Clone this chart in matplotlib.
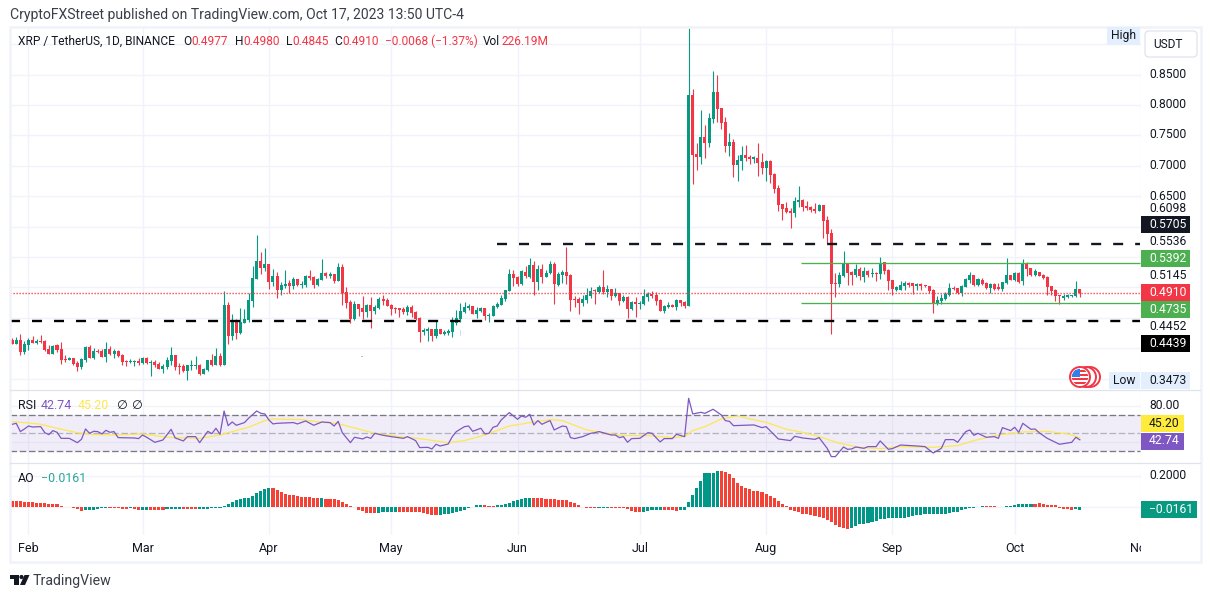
import matplotlib
matplotlib.use("Agg")
import matplotlib.pyplot as plt
import numpy as np
from matplotlib.patches import Circle, FancyBboxPatch, Polygon, Rectangle

plt.rcParams["font.family"] = ["Roboto", "DejaVu Sans"]

# candles, one per day, first one is 4 days before Feb 1
first_day = -4
opens = [
    .4140, .4074, .4140, .3931, .4057, .4140, .4090, .4123, .4123, .3992,
    .3910, .4057, .3992, .3827, .3811, .3844, .3762, .3696, .3811, .4025,
    .3844, .3959, .3959, .3860, .3992, .3910, .3959, .3893, .3794, .3778,
    .3778, .3794, .3762, .3844, .3762, .3778, .3745, .3663, .3696, .3794,
    .3893, .3712, .3712, .3630, .3712, .3712, .3729, .3581, .3646, .3811,
    .3729, .3877, .3729, .4715, .4205, .4452, .4255, .4419, .4468, .4781,
    .5142, .5438, .5323, .5389, .5093, .5192, .4962, .5027, .5077, .5027,
    .5142, .5044, .5044, .5192, .5175, .5044, .5126, .5241, .5192, .5225,
    .5110, .5340, .4929, .4764, .4485, .4731, .4666, .4600, .4715, .4616,
    .4666, .4814, .4797, .4715, .4666, .4666, .4649, .4600, .4682, .4600,
    .4501, .4271, .4288, .4320, .4205, .4320, .4238, .4255, .4271, .4419,
    .4485, .4600, .4666, .4699, .4567, .4616, .4666, .4534, .4534, .4682,
    .4715, .4814, .4945, .5225, .5175, .5060, .5258, .5175, .5373, .5093,
    .5307, .5175, .5241, .5389, .5044, .5208, .5258, .5208, .4814, .4814,
    .4748, .4797, .4863, .4962, .4929, .5011, .4929, .4978, .4863, .4912,
    .4781, .4847, .4649, .4764, .4731, .4731, .4847, .4896, .4879, .4797,
    .4616, .4682, .4715, .4682, .4797, .4764, .4699, .8162, .7193, .7144,
    .7472, .7374, .7768, .8211, .7948, .7719, .7325, .7390, .7013, .7079,
    .7177, .7144, .7111, .7128, .7062, .6964, .7079, .6865, .6636, .6373,
    .6307, .6258, .6225, .6406, .6439, .6340, .6324, .6291, .6258, .6357,
    .6110, .5897, .5077, .5060, .5191, .5399, .5257, .5208, .5306, .5175,
    .5274, .5224, .5241, .5224, .5416, .5290, .5126, .4962, .4962, .5022,
    .5077, .5066, .5016, .5060, .5044, .5027, .4962, .4726, .4775, .4814,
    .4879, .4995, .4995, .4912, .5011, .5126, .5208, .5044, .5126, .5077,
    .4995, .5060, .5011, .4978, .5077, .5208, .5126, .5241, .5110, .5389,
    .5323, .5208, .5258, .5208, .5175, .5027, .4962, .4879, .4825, .4841,
    .4858, .4858, .4977,
]
highs = [
    .4173, .4189, .4238, .4123, .4173, .4205, .4156, .4222, .4140, .4057,
    .4057, .4074, .4107, .3893, .3860, .3844, .3794, .3844, .4041, .4057,
    .4008, .3992, .3992, .4107, .4041, .3992, .3975, .3910, .3811, .3827,
    .3811, .3844, .3860, .3860, .3811, .3811, .3778, .3745, .3860, .4025,
    .3893, .3762, .3745, .3729, .3811, .3877, .3745, .3679, .3811, .3910,
    .4008, .3926, .4945, .4764, .4567, .4485, .4666, .4649, .4912, .5356,
    .5866, .5586, .5652, .5389, .5307, .5258, .5093, .5290, .5126, .5175,
    .5142, .5110, .5208, .5290, .5192, .5159, .5471, .5258, .5258, .5225,
    .5406, .5389, .5011, .4797, .4781, .4731, .4863, .4731, .4847, .4715,
    .4847, .4879, .4830, .4731, .4682, .4666, .4682, .4715, .4715, .4616,
    .4518, .4337, .4353, .4320, .4452, .4320, .4304, .4320, .4518, .4633,
    .4748, .4764, .4731, .4699, .4682, .4682, .4666, .4584, .4715, .4764,
    .4879, .4962, .5307, .5290, .5192, .5290, .5356, .5488, .5438, .5373,
    .5389, .5290, .5438, .5422, .5258, .5290, .5669, .5225, .4863, .4847,
    .4879, .4995, .5011, .4978, .5044, .5290, .5044, .4978, .4995, .4912,
    .4879, .4863, .4781, .4847, .4781, .4978, .4929, .4945, .4929, .4814,
    .4715, .4764, .4731, .4814, .4797, .4781, .9272, .8260, .7374, .7916,
    .7669, .7866, .8556, .8490, .7948, .7801, .7538, .7440, .7177, .7325,
    .7341, .7177, .7161, .7374, .7210, .7095, .7095, .6882, .6685, .6373,
    .6406, .6307, .6488, .6668, .6455, .6422, .6340, .6389, .6373, .6357,
    .6176, .5963, .5241, .5257, .5602, .5399, .5274, .5388, .5339, .5339,
    .5290, .5323, .5257, .5503, .5416, .5306, .5126, .5027, .5110, .5110,
    .5093, .5077, .5077, .5077, .5044, .5027, .4978, .4863, .4896, .4929,
    .5077, .5027, .4995, .5044, .5159, .5258, .5208, .5159, .5159, .5093,
    .5077, .5077, .5077, .5093, .5488, .5208, .5258, .5258, .5471, .5422,
    .5323, .5307, .5258, .5225, .5192, .5027, .4978, .4879, .4896, .4890,
    .4869, .5110, .4980,
]
lows = [
    .4074, .4074, .3882, .3899, .3975, .4090, .4074, .4090, .3959, .3910,
    .3910, .3942, .3745, .3778, .3811, .3729, .3630, .3663, .3778, .3844,
    .3827, .3926, .3860, .3778, .3893, .3844, .3860, .3729, .3712, .3762,
    .3712, .3729, .3745, .3745, .3548, .3696, .3663, .3597, .3663, .3729,
    .3646, .3581, .3614, .3482, .3646, .3663, .3564, .3581, .3630, .3712,
    .3729, .3712, .3729, .4074, .4140, .4156, .4238, .4419, .4436, .4682,
    .5142, .5225, .5274, .4978, .5027, .4830, .4879, .4995, .4912, .4978,
    .5027, .4995, .5011, .5126, .4995, .5027, .5126, .5159, .5159, .5077,
    .5110, .4715, .4666, .4419, .4468, .4534, .4485, .4518, .4337, .4567,
    .4649, .4715, .4699, .4551, .4584, .4518, .4567, .4551, .4518, .4468,
    .4107, .4222, .4123, .4123, .4173, .4238, .4222, .4222, .4189, .4386,
    .4436, .4584, .4633, .4567, .4501, .4600, .4468, .4436, .4534, .4666,
    .4715, .4781, .4945, .5027, .5027, .5044, .5159, .5159, .4879, .4962,
    .5077, .5175, .5225, .4731, .5027, .5077, .5060, .4616, .4682, .4567,
    .4699, .4748, .4830, .4731, .4912, .4896, .4847, .4797, .4847, .4715,
    .4764, .4501, .4633, .4518, .4649, .4715, .4781, .4830, .4715, .4616,
    .4584, .4666, .4682, .4633, .4699, .4666, .4699, .6701, .6931, .7029,
    .7128, .7308, .7702, .7719, .7604, .7226, .7161, .6816, .6750, .6931,
    .7079, .7029, .7046, .6832, .6865, .6750, .6718, .6553, .6258, .6110,
    .6225, .5979, .6160, .6324, .6258, .6275, .6242, .6225, .6258, .5815,
    .5733, .4240, .4847, .5011, .5175, .5044, .5044, .5175, .5126, .5093,
    .5175, .5175, .5109, .5142, .5224, .4962, .4880, .4945, .4962, .4962,
    .5011, .4896, .4962, .4962, .5011, .4912, .4584, .4715, .4726, .4797,
    .4863, .4962, .4896, .4863, .5011, .5077, .5027, .5027, .5044, .4978,
    .4912, .4962, .4962, .4945, .5060, .5126, .5110, .5077, .5044, .5192,
    .5192, .5192, .5192, .5142, .4879, .4879, .4781, .4726, .4797, .4830,
    .4847, .4841, .4845,
]
closes = [
    .4074, .4140, .3931, .4074, .4140, .4090, .4123, .4107, .3975, .3910,
    .4041, .3975, .3811, .3811, .3844, .3745, .3696, .3827, .4025, .3844,
    .3959, .3942, .3860, .3992, .3910, .3959, .3877, .3778, .3778, .3794,
    .3794, .3762, .3844, .3762, .3778, .3729, .3663, .3712, .3811, .3893,
    .3696, .3696, .3630, .3729, .3729, .3729, .3581, .3663, .3811, .3729,
    .3877, .3729, .4715, .4205, .4468, .4255, .4436, .4485, .4797, .5159,
    .5438, .5323, .5389, .5093, .5192, .4962, .5044, .5060, .5027, .5142,
    .5044, .5060, .5192, .5159, .5044, .5142, .5241, .5192, .5225, .5110,
    .5340, .4912, .4748, .4485, .4731, .4649, .4600, .4715, .4616, .4682,
    .4814, .4781, .4699, .4649, .4649, .4633, .4600, .4682, .4584, .4485,
    .4271, .4304, .4320, .4205, .4320, .4238, .4271, .4288, .4436, .4501,
    .4616, .4682, .4699, .4567, .4633, .4666, .4534, .4551, .4699, .4731,
    .4830, .4962, .5225, .5159, .5060, .5274, .5192, .5373, .5093, .5307,
    .5175, .5241, .5389, .5060, .5225, .5258, .5192, .4797, .4797, .4748,
    .4814, .4879, .4945, .4945, .5011, .4929, .4978, .4863, .4912, .4781,
    .4847, .4649, .4764, .4731, .4748, .4863, .4896, .4863, .4781, .4616,
    .4699, .4715, .4682, .4797, .4748, .4699, .8162, .7177, .7144, .7472,
    .7374, .7784, .8211, .7932, .7702, .7325, .7390, .7013, .7095, .7177,
    .7128, .7111, .7144, .7046, .6964, .7079, .6849, .6619, .6357, .6291,
    .6242, .6225, .6422, .6439, .6324, .6307, .6275, .6258, .6357, .6094,
    .5881, .5060, .5060, .5208, .5399, .5241, .5208, .5306, .5191, .5274,
    .5208, .5241, .5224, .5399, .5274, .5109, .4978, .5000, .5038, .5077,
    .5044, .5027, .5049, .5027, .5027, .4945, .4726, .4797, .4830, .4896,
    .4995, .4978, .4912, .5027, .5142, .5208, .5044, .5142, .5060, .4995,
    .5060, .4978, .4978, .5093, .5208, .5126, .5241, .5093, .5389, .5307,
    .5208, .5274, .5192, .5159, .5011, .4945, .4863, .4863, .4858, .4874,
    .4869, .4978, .4910,
]

# RSI turning points
rsi_days = [
    -4, -3, -2, -1, 0, 1, 3, 4, 5, 6, 7, 8, 10, 12, 13, 14, 15, 16, 17, 18, 19, 20, 21, 22, 26, 27, 28, 29, 31, 33,
    35, 36, 38, 39, 41, 42, 44, 45, 46, 47, 48, 49, 50, 51, 53, 54, 56, 57, 58, 59, 60, 61, 65, 66, 68, 70, 72, 74,
    75, 76, 77, 79, 80, 82, 83, 84, 85, 87, 89, 92, 93, 95, 96, 98, 99, 100, 101, 103, 104, 105, 107, 108, 109, 111,
    112, 113, 114, 115, 116, 118, 119, 120, 121, 122, 123, 124, 125, 126, 127, 128, 129, 131, 132, 133, 134, 136,
    138, 139, 140, 143, 144, 145, 146, 147, 148, 150, 152, 153, 155, 156, 158, 159, 161, 162, 163, 165, 166, 168,
    170, 171, 172, 173, 178, 180, 181, 184, 187, 188, 190, 193, 194, 196, 197, 198, 200, 201, 202, 203, 205, 206,
    208, 209, 211, 212, 214, 218, 220, 222, 224, 225, 227, 228, 230, 231, 232, 233, 235, 237, 238, 239, 241, 242,
    243, 244, 246, 247, 248, 250, 253, 256, 257, 258,
]
rsi_values = [
    60.0, 61.1, 51.9, 54.8, 58.1, 57.0, 57.4, 50.7, 48.5, 53.0, 51.1, 44.4, 44.4, 39.6, 43.3, 54.8, 50.0, 52.2, 51.9, 49.3, 53.3, 51.1, 51.9, 45.2, 44.8, 44.1, 48.1, 45.6, 40.0, 42.6,
    54.4, 44.8, 41.5, 46.3, 46.3, 39.6, 52.2, 49.6, 55.6, 48.9, 74.8, 58.5, 62.6, 58.9, 61.9, 66.7, 74.8, 72.2, 71.5, 64.8, 60.4, 61.1, 61.9, 60.4, 63.7, 58.9, 62.6, 61.9,
    58.1, 63.3, 50.7, 39.6, 45.6, 43.7, 45.9, 44.4, 50.0, 47.8, 46.3, 44.4, 46.3, 41.9, 34.1, 34.4, 32.6, 37.8, 35.9, 38.1, 46.3, 51.9, 57.4, 58.1, 52.2, 55.6,
    49.3, 50.0, 56.7, 58.1, 64.8, 73.0, 69.3, 65.6, 69.3, 67.8, 71.1, 59.3, 64.1, 60.0, 62.2, 64.1, 53.7, 58.1, 57.4, 45.2, 44.1, 46.3,
    50.0, 50.7, 51.9, 48.1, 48.1, 45.2, 46.3, 40.0, 44.1, 44.4, 50.7, 50.0, 40.4, 44.1, 44.1, 48.9, 46.3, 88.9, 71.5, 73.3, 72.2, 76.7,
    70.4, 64.1, 63.3, 58.5, 59.3, 56.3, 57.4, 43.7, 41.9, 46.7, 44.8, 43.3, 45.2, 33.3, 24.1, 24.1, 34.8, 32.2, 32.6, 34.8, 33.3, 35.2,
    35.2, 41.5, 32.2, 33.0, 37.0, 35.9, 35.2, 28.1, 33.3, 43.0, 43.0, 40.0, 51.9, 53.7, 47.8, 50.0, 45.6, 46.3, 44.4, 56.3, 53.0, 56.7,
    51.1, 61.1, 54.4, 54.8, 50.7, 44.4, 37.8, 40.0, 45.6, 42.74,
]
rsi_ma_days = [
    -4, 0, 3, 7, 12, 16, 22, 28, 34, 42, 47, 50, 54, 58, 60, 67, 71, 76, 80, 85, 91, 96, 103, 107, 112, 118, 124, 128,
    131, 137, 142, 146, 152, 158, 161, 163, 166, 170, 174, 176, 181, 186, 190, 194, 199, 204, 209, 214, 222, 228, 232,
    238, 244, 250, 255, 258,
]
rsi_ma_values = [
    63.0, 61.5, 60.0, 55.6, 50.7, 48.5, 48.1, 49.3, 45.6, 44.4, 48.1, 51.9, 56.7, 64.1, 65.9, 65.2, 62.6, 60.7, 55.9, 50.0, 46.3, 44.1, 39.6, 41.9, 48.1, 58.1, 62.6, 65.2,
    64.1, 53.7, 50.0, 47.4, 47.4, 45.2, 46.3, 53.0, 57.4, 65.9, 69.3, 67.0, 62.2, 54.4, 51.1, 46.3, 38.9, 34.4, 33.0, 35.2, 34.4, 36.3, 41.9,
    48.1, 51.5, 52.2, 49.3, 45.2,
]

# awesome oscillator, one bar per day from first_day
ao_values = [
    .0409, .0409, .0409, .0366, .0344, .0344, .0301, .0280, .0280, .0237,
    .0215, .0194, .0065, .0022, .0010, -.0043, -.0129, -.0215, -.0151, -.0151,
    -.0151, -.0129, -.0065, -.0043, -.0043, -.0043, -.0065, -.0108, -.0108, -.0065,
    -.0129, -.0151, -.0151, -.0151, -.0172, -.0172, -.0151, -.0151, -.0129, -.0129,
    -.0129, -.0129, -.0108, -.0108, -.0108, -.0108, -.0086, -.0086, -.0086, -.0065,
    -.0065, -.0022, .0108, .0237, .0323, .0452, .0516, .0581, .0624, .0753,
    .0925, .1075, .1183, .1226, .1247, .1118, .1011, .0882, .0796, .0774,
    .0731, .0667, .0667, .0667, .0624, .0624, .0624, .0559, .0538, .0516,
    .0473, .0323, .0215, .0108, .0022, -.0151, -.0258, -.0344, -.0366, -.0344,
    -.0366, -.0323, -.0280, -.0280, -.0280, -.0301, -.0301, -.0301, -.0323, -.0323,
    -.0301, -.0366, -.0430, -.0473, -.0473, -.0495, -.0430, -.0409, -.0366, -.0301,
    -.0237, -.0172, -.0043, .0043, .0151, .0151, .0129, .0108, .0086, .0151,
    .0151, .0215, .0258, .0409, .0473, .0559, .0602, .0602, .0602, .0602,
    .0602, .0538, .0538, .0538, .0473, .0473, .0452, .0323, .0280, .0129,
    .0043, -.0043, -.0065, -.0065, -.0065, -.0043, -.0022, -.0043, -.0043, -.0022,
    -.0065, -.0129, -.0237, -.0280, -.0280, -.0280, -.0215, -.0151, -.0151, -.0151,
    -.0172, -.0172, -.0172, -.0215, -.0151, -.0151, .0344, .0796, .1247, .1699,
    .2215, .2215, .2215, .2344, .2344, .2280, .2151, .1892, .1570, .1376,
    .1247, .1183, .1054, .1054, .0989, .0860, .0731, .0602, .0409, .0194,
    .0086, -.0172, -.0237, -.0301, -.0430, -.0430, -.0473, -.0559, -.0645, -.0688,
    -.0817, -.0968, -.1140, -.1269, -.1333, -.1398, -.1333, -.1226, -.1097, -.1097,
    -.1011, -.0946, -.0860, -.0774, -.0753, -.0688, -.0688, -.0688, -.0688, -.0688,
    -.0645, -.0559, -.0516, -.0473, -.0452, -.0452, -.0452, -.0452, -.0430, -.0430,
    -.0344, -.0301, -.0280, -.0194, -.0129, -.0065, -.0022, .0043, .0108, .0108,
    .0065, .0065, .0022, .0010, .0065, .0086, .0172, .0215, .0215, .0215,
    .0215, .0237, .0280, .0215, .0172, .0151, .0129, -.0065, -.0108, -.0086,
    -.0172, -.0129, -.0161,
]
# stretches of days where the oscillator bars are green
ao_green_spans = [(14, 19), (25, 25), (28, 29), (34, 37), (42, 59), (72, 72), (86, 90), (101, 111), (115, 123),
                  (140, 142), (151, 155), (160, 169), (202, 234), (240, 246), (257, 258)]

month_labels = ["Feb", "Mar", "Apr", "May", "Jun", "Jul", "Aug", "Sep", "Oct", "Nov"]
month_days = [0, 28, 59, 89, 120, 150, 181, 212, 242, 273]
price_ticks = [.35, .40, .45, .50, .55, .60, .65, .70, .75, .80, .85, .90]

resistance_level = 0.5705
support_level = 0.4446
range_high = 0.5392
range_low = 0.4735
last_close = 0.4910

W, H = 1211, 598
UP = "#089981"
DOWN = "#F23645"
AO_RED = "#F44336"
AO_GREEN = "#009688"
GRID = "#F0F3FA"
INK = "#131722"
PURPLE = "#7E57C2"
GREEN_LINE = "#4CAF50"
DAY_LEFT, DAY_RIGHT = -4.535, 272.74


def pane(x0, y0, x1, y1):
    ax = fig.add_axes([x0 / W, 1 - y1 / H, (x1 - x0) / W, (y1 - y0) / H])
    ax.set_xlim(DAY_LEFT, DAY_RIGHT)
    for s in ax.spines.values():
        s.set_visible(False)
    ax.set_xticks(month_days)
    ax.tick_params(length=0, labelbottom=False, labelleft=False)
    ax.grid(True, color=GRID, lw=1.0)
    ax.set_axisbelow(True)
    return ax


def label(x, y, s, color=INK, size=8.7, ha="left", **kw):
    over.text(x, y, s, color=color, fontsize=size, ha=ha, va="center", **kw)


def boxed(y, s, bg, fg="white", x0=1141, x1=1190, h=17):
    over.add_patch(Rectangle((x0, y - h / 2), x1 - x0, h, color=bg, lw=0))
    label(x0 + 8, y, s, color=fg)


fig = plt.figure(figsize=(W / 100, H / 100), dpi=100, facecolor="white")

ax_main = pane(10, 28, 1141, 390)
ax_rsi = pane(10, 391, 1141, 463)
ax_ao = pane(10, 464, 1141, 535)
ax_time = pane(10, 535, 1141, 561)
ax_time.grid(False)

# candles
days = first_day + np.arange(len(closes))
o, c = np.array(opens), np.array(closes)
candle_colors = [UP if b >= a else DOWN for a, b in zip(opens, closes)]
ax_main.vlines(days, lows, highs, colors=candle_colors, lw=0.8, zorder=3)
ax_main.bar(days, np.maximum(np.abs(c - o), 0.0012), bottom=np.minimum(o, c), width=0.74,
            color=candle_colors, lw=0, zorder=4)
ax_main.set_ylim(0.3311, 0.9265)
ax_main.set_yticks(price_ticks)

# drawings on the price pane
ax_main.hlines(last_close, DAY_LEFT, DAY_RIGHT, colors=DOWN, lw=1.0, linestyles=(0, (0.9, 1.26)), zorder=5)
ax_main.hlines(range_high, 189.6, DAY_RIGHT, colors=GREEN_LINE, lw=0.95, zorder=5)
ax_main.hlines(range_low, 189.6, DAY_RIGHT, colors=GREEN_LINE, lw=0.95, zorder=5)
ax_main.hlines(resistance_level, 114.9, DAY_RIGHT, colors=INK, lw=1.7, linestyles=(0, (4.24, 5.08)), zorder=6)
ax_main.hlines(support_level, DAY_LEFT, DAY_RIGHT, colors="black", lw=1.7, linestyles=(0, (4.24, 5.08)), zorder=6)

# RSI pane
ax_rsi.set_ylim(17.0, 97.0)
ax_rsi.set_yticks([40, 80])
ax_rsi.axhspan(30, 70, color=PURPLE, alpha=0.1, lw=0, zorder=1)
ax_rsi.hlines([70, 30], DAY_LEFT, DAY_RIGHT, colors="#787B86", lw=0.95, linestyles=(0, (5, 2)), zorder=2)
ax_rsi.hlines(50, DAY_LEFT, DAY_RIGHT, colors="#B2B5BE", lw=0.95, linestyles=(0, (5, 2)), zorder=2)
ax_rsi.plot(rsi_ma_days, rsi_ma_values, color="#FDE84F", lw=0.9, zorder=3)
ax_rsi.plot(rsi_days, rsi_values, color=PURPLE, lw=0.9, zorder=4)

# AO pane
ao_days = first_day + np.arange(len(ao_values))
ao_colors = [AO_GREEN if any(a <= d <= b for a, b in ao_green_spans) else AO_RED for d in ao_days]
ax_ao.bar(ao_days, ao_values, width=0.76, color=ao_colors, lw=0, zorder=3)
ax_ao.set_ylim(-0.1787, 0.2794)
ax_ao.set_yticks([0, 0.2])

# time labels, Nov gets cut by the pane edge like on the site
ax_time.set_ylim(0, 1)
for name, d in zip(month_labels, month_days):
    ax_time.text(d, 0.47, name, color=INK, fontsize=9.0, ha="center", va="center", clip_on=True)

# pixel overlay for the chrome and price tags
over = fig.add_axes([0, 0, 1, 1], facecolor="none")
over.set_xlim(0, W)
over.set_ylim(H, 0)
over.axis("off")
over.set_zorder(10)

over.add_patch(Rectangle((10, 27), 1191, 535, fill=False, ec=GRID, lw=1.8))
over.plot([10, 1200], [390.4, 390.4], color="#E0E3EB", lw=0.9)
over.plot([10, 1200], [463.4, 463.4], color="#E0E3EB", lw=0.9)

label(10, 14.5, "CryptoFXStreet published on TradingView.com, Oct 17, 2023 13:50 UTC-4", color="#3A3E4A", size=10.1)

legend_parts = [(18, "XRP / TetherUS, 1D, BINANCE", INK), (183, "O", INK), (191, "0.4977", DOWN),
                (235, "H", INK), (243, "0.4980", DOWN), (286, "L", INK), (292, "0.4845", DOWN),
                (334, "C", INK), (342, "0.4910", DOWN), (385, "\u22120.0068 (\u22121.37%)", DOWN),
                (483, "Vol", INK), (502, "226.19M", DOWN)]
for x, s, col in legend_parts:
    label(x, 41.5, s, color=col, size=8.6)

label(18, 405.5, "RSI", size=8.9)
label(41, 405.5, "42.74", color=PURPLE, size=8.9)
label(78, 405.5, "45.20", color="#FDE84F", size=8.9)
label(116, 405.5, "\u2205", size=8.9)
label(131, 405.5, "\u2205", size=8.9)
label(18, 479, "AO", size=8.9)
label(41, 479, "\u22120.0161", color="#26A69A", size=8.9)

# price scale, tags are pushed apart the way the site does it
plain_ticks = [(74, "0.8500"), (104, "0.8000"), (135, "0.7500"), (165.5, "0.7000"), (196, "0.6500"), (209, "0.6098"),
               (241.7, "0.5536"), (275.7, "0.5145"), (326.7, "0.4452"), (405.7, "80.00"), (475.7, "0.2000")]
for y, s in plain_ticks:
    label(1149, y, s)
boxed(224.3, "0.5705", INK)
boxed(258.3, "0.5392", GREEN_LINE)
boxed(292.3, "0.4910", DOWN)
boxed(309.5, "0.4735", GREEN_LINE)
boxed(343.3, "0.4439", "black")
boxed(423.5, "45.20", "#FFEB3B", fg=INK, x1=1184)
boxed(441.0, "42.74", PURPLE, x1=1184)
boxed(509.5, "\u22120.0161", UP, x1=1197)

# High / Low tags and the currency button
over.add_patch(Rectangle((1107, 27), 33, 18, color="#E3EFFD", lw=0))
label(1123.5, 36, "High", ha="center")
over.add_patch(FancyBboxPatch((1148, 34), 46, 20, boxstyle="round,pad=3,rounding_size=4", fc="white", ec="#E0E3EB", lw=0.9))
label(1168, 45, "USDT", ha="center", size=8.6)
over.add_patch(Rectangle((1109, 372), 31, 16.7, color="#E3EFFD", lw=0))
over.add_patch(Rectangle((1141, 372), 49, 16.7, color="#E3EFFD", lw=0))
label(1124.5, 380.5, "Low", ha="center")
label(1149, 380.5, "0.3473")

# currency flag bubble
for cx in (1090, 1086, 1080):
    over.add_patch(Circle((cx, 377), 10, fc="white", ec=DOWN, lw=1.4))
stripes = Circle((1080, 377), 8.2, transform=over.transData)
for yy in (370, 374, 378, 382):
    r = Rectangle((1070, yy), 20, 2, color=DOWN, lw=0)
    over.add_patch(r)
    r.set_clip_path(stripes)
canton = Rectangle((1071, 368), 9, 8.5, color="#2F80ED", lw=0)
over.add_patch(canton)
canton.set_clip_path(stripes)

# the two tiny chart marks
over.add_patch(Rectangle((361, 355.5), 2, 1.2, color="#A5D6A7", lw=0))
over.add_patch(Rectangle((460, 330), 1, 6, color="#D1DCF8", lw=0))

# TradingView logo
over.add_patch(Polygon([(10, 575), (18.5, 575), (18.5, 585), (14, 585), (14, 579), (10, 579)], color=INK, lw=0))
over.add_patch(Circle((21.5, 577), 2.1, color=INK, lw=0))
over.add_patch(Polygon([(24.5, 575), (29.5, 575), (25, 585), (20, 585)], color=INK, lw=0))
label(33, 580.5, "TradingView", color="#3A3E4A", size=10.2)

fig.savefig("out.png", dpi=100)
